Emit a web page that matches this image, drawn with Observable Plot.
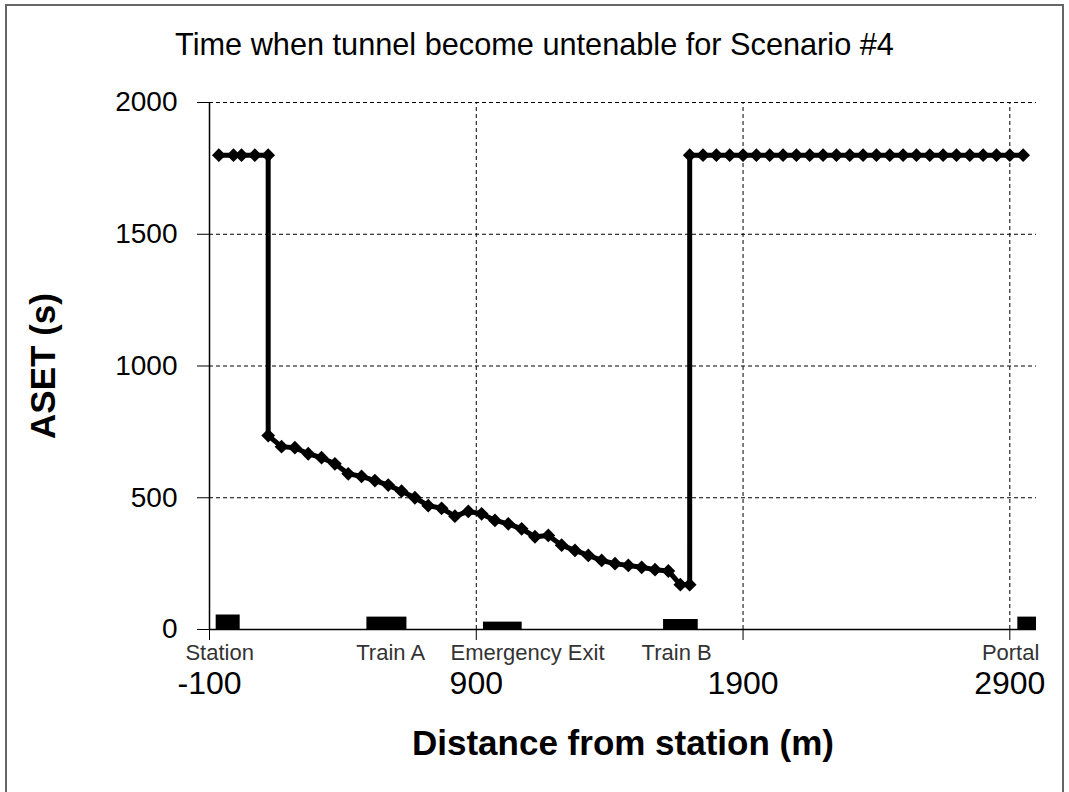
<!DOCTYPE html>
<html>
<head>
<meta charset="utf-8">
<script src="https://cdn.jsdelivr.net/npm/d3@7"></script>
<script src="https://cdn.jsdelivr.net/npm/@observablehq/plot@0.6"></script>
<style>
  html, body { margin: 0; padding: 0; background: #fff; }
  #wrap { position: relative; width: 1069px; height: 792px; overflow: hidden; font-family: "Liberation Sans", Arial, sans-serif; }
  #frame { position: absolute; left: 5px; top: 4px; width: 1059px; height: 820px; border: 2px solid #666; box-sizing: border-box; pointer-events: none; }
  #title { width: 1069px; height: 70px; box-sizing: border-box; padding-top: 28px; font-size: 30.7px; line-height: 34px; text-align: center; color: #000; }
  svg { display: block; }
</style>
</head>
<body>
<div id="wrap">
  <div id="frame"></div>
  <div id="title">Time when tunnel become untenable for Scenario #4</div>
  <div id="chart"></div>
</div>
<script>
// ASET series (distance from station in m, ASET in s)
const distance = [
  -65, -10, 20, 70, 120,
  120, 170, 220, 270, 320, 370, 420, 470, 520, 570, 620, 670, 720, 770, 820, 870,
  920, 970, 1020, 1070, 1120, 1170, 1220, 1270, 1320, 1370, 1420, 1470, 1520, 1570,
  1620, 1665, 1700,
  1700, 1750, 1800, 1850, 1900, 1950, 2000, 2050, 2100, 2150, 2200, 2250, 2300,
  2350, 2400, 2450, 2500, 2550, 2600, 2650, 2700, 2750, 2800, 2850, 2900, 2950
];
const aset = [
  1800, 1800, 1800, 1800, 1800,
  736, 694, 690, 667, 652, 629, 591, 581, 565, 548, 525, 500, 470, 460, 430, 448,
  439, 414, 401, 382, 352, 357, 320, 300, 281, 262, 250, 243, 236, 227,
  222, 170, 170,
  1800, 1800, 1800, 1800, 1800, 1800, 1800, 1800, 1800, 1800, 1800, 1800, 1800,
  1800, 1800, 1800, 1800, 1800, 1800, 1800, 1800, 1800, 1800, 1800, 1800, 1800
];

// Location markers along the tunnel
const places = ["Station", "Train A", "Emergency Exit", "Train B", "Portal"];
const placeStart = [-75, 490, 927, 1602, 2930];
const placeEnd = [15, 640, 1072, 1732, 3000];
const placeHeight = [55, 47, 28, 38, 47];
const placeLabelX = [-62, 579, 1092, 1651, 2903];

// Axes
const xTicks = [-100, 900, 1900, 2900];
const yTicks = [0, 500, 1000, 1500, 2000];
const xGrid = [900, 1900, 2900];
const yGrid = [500, 1000, 1500, 2000];

const series = distance.map((d, i) => ({x: d, y: aset[i]}));
const blocks = places.map((p, i) => ({name: p, x1: placeStart[i], x2: placeEnd[i], h: placeHeight[i], lx: placeLabelX[i]}));

const font = "'Liberation Sans', Arial, sans-serif";

const chart = Plot.plot({
  width: 1069,
  height: 722,
  marginTop: 32,
  marginBottom: 163,
  marginLeft: 209,
  marginRight: 33,
  style: {fontFamily: font, fontSize: "28px", color: "#000", background: "transparent"},
  x: {domain: [-100, 3000]},
  y: {domain: [0, 2000]},
  marks: [
    Plot.ruleY(yGrid, {stroke: "#000", strokeWidth: 1, strokeDasharray: "4,3"}),
    Plot.ruleX(xGrid, {y1: 0, y2: 2000, stroke: "#000", strokeWidth: 1, strokeDasharray: "4,3"}),
    Plot.rect(blocks, {x1: "x1", x2: "x2", y1: 0, y2: "h", fill: "#000"}),
    Plot.ruleY([0], {stroke: "#000", strokeWidth: 1.5}),
    Plot.ruleX([-100], {y1: 0, y2: 2000, stroke: "#000", strokeWidth: 1.5}),
    Plot.line(series, {x: "x", y: "y", stroke: "#000", strokeWidth: 5}),
    Plot.dot(series, {x: "x", y: "y", symbol: "diamond2", r: 6.2, fill: "#000", stroke: "none"}),
    Plot.axisY({ticks: yTicks, tickSize: 12, tickPadding: 20, fontSize: 28, label: null, tickFormat: d => String(d)}),
    Plot.axisX({ticks: xTicks, tickSize: 11, tickPadding: 31, fontSize: 32, label: null, tickFormat: d => (d < 0 ? "-" + Math.abs(d) : String(d))}),
    Plot.text(blocks, {x: "lx", y: 0, dy: 23, text: "name", fontSize: 22, fill: "#333"}),
    Plot.text(["Distance from station (m)"], {frameAnchor: "bottom", lineAnchor: "middle", textAnchor: "middle", dy: 114, fontSize: 35, fontWeight: "bold", fill: "#000"}),
    Plot.text(["ASET (s)"], {frameAnchor: "left", textAnchor: "middle", lineAnchor: "middle", dx: -166, rotate: -90, fontSize: 35, fontWeight: "bold", fill: "#000"})
  ]
});
document.getElementById("chart").appendChild(chart);
</script>
</body>
</html>
